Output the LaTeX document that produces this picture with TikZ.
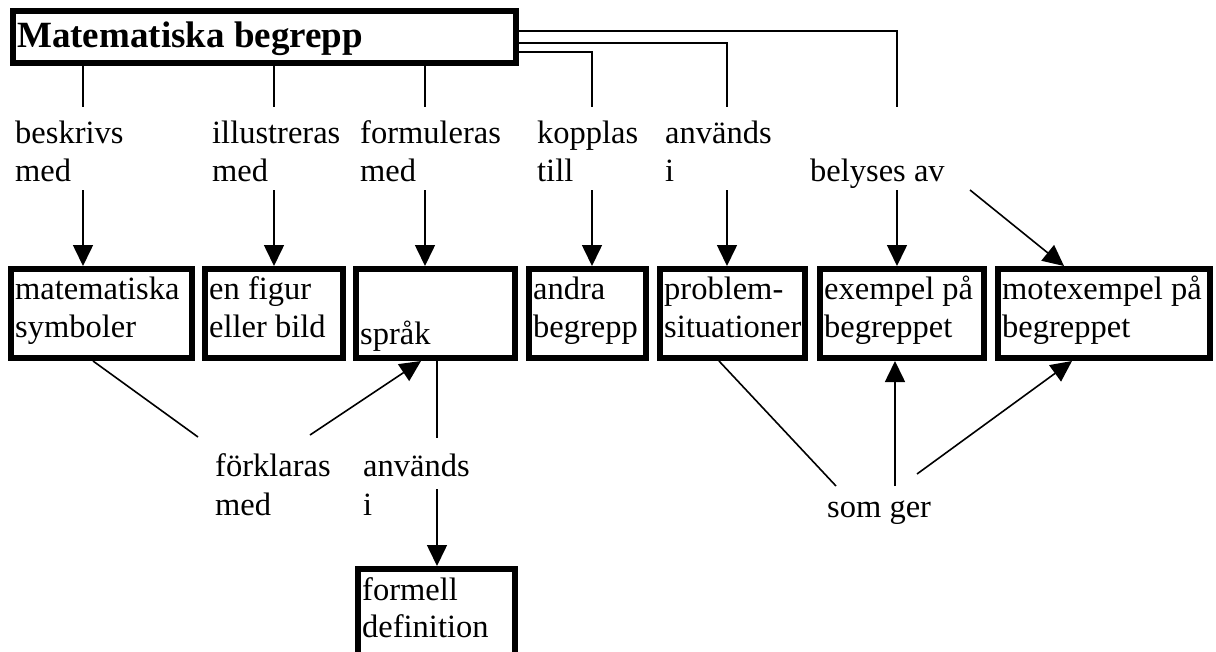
\documentclass[tikz,border=0pt]{standalone}
\usepackage{fontspec}
\setmainfont{Liberation Serif}
\usetikzlibrary{arrows.meta,calc}
\begin{document}
\begin{tikzpicture}[x=1pt,y=-1pt,
  box/.style={draw, line width=6pt, outer sep=3pt, inner sep=0pt, anchor=north west, minimum height=89pt},
  txt/.style={anchor=base west, inner sep=0pt, font=\fontsize{32.5}{38}\selectfont},
  ln/.style={line width=1.6pt},
  arr/.style={line width=1.6pt, -{Triangle[length=21pt,width=20pt]}}]
\useasboundingbox (0,0) rectangle (1216,651);
\clip (0,0) rectangle (1216,651);
% column coordinates
\coordinate (c1) at (83,0);
\coordinate (c2) at (274,0);
\coordinate (c3) at (425,0);
\coordinate (c4) at (592,0);
\coordinate (c5) at (727,0);
\coordinate (c6) at (897,0);
\coordinate (ta) at (0,107);
\coordinate (tb) at (0,190);
\coordinate (h4) at (0,52);
\coordinate (h5) at (0,43);
\coordinate (h6) at (0,31);
% main box
\node[box, minimum width=503pt, minimum height=52pt] (main) at (10,8) {};
\node[anchor=base west, inner sep=0pt, font=\bfseries\fontsize{37}{42}\selectfont] (maintxt) at (17,47) {Matematiska begrepp};
% boxes
\node[box, minimum width=181pt] (b1) at (8,266) {};
\node[box, minimum width=138pt] (b2) at (202,266) {};
\node[box, minimum width=159pt] (b3) at (353,266) {};
\node[box, minimum width=117pt] (b4) at (526,266) {};
\node[box, minimum width=145pt] (b5) at (657,266) {};
\node[box, minimum width=164pt] (b6) at (817,266) {};
\node[box, minimum width=212pt] (b7) at (995,266) {};
\node[box, minimum width=157pt, minimum height=100pt] (b8) at (355,566) {};
% box texts
\node[txt] (t1a) at (15,299) {matematiska};
\node[txt] (t1b) at (15,337) {symboler};
\node[txt] (t2a) at (209,299) {en figur};
\node[txt] (t2b) at (209,337) {eller bild};
\node[txt] (t3a) at (360,344) {språk};
\node[txt] (t4a) at (533,299) {andra};
\node[txt] (t4b) at (533,337) {begrepp};
\node[txt] (t5a) at (664,299) {problem-};
\node[txt] (t5b) at (664,337) {situationer};
\node[txt] (t6a) at (824,299) {exempel på};
\node[txt] (t6b) at (824,337) {begreppet};
\node[txt] (t7a) at (1002,299) {motexempel på};
\node[txt] (t7b) at (1002,337) {begreppet};
\node[txt] (t8a) at (362,600) {formell};
\node[txt] (t8b) at (362,637) {definition};
% top labels
\node[txt] (l1a) at (15,143) {beskrivs};
\node[txt] (l1b) at (15,181) {med};
\node[txt] (l2a) at (212,143) {illustreras};
\node[txt] (l2b) at (212,181) {med};
\node[txt] (l3a) at (360,143) {formuleras};
\node[txt] (l3b) at (360,181) {med};
\node[txt] (l4a) at (537,143) {kopplas};
\node[txt] (l4b) at (537,181) {till};
\node[txt] (l5a) at (665,143) {används};
\node[txt] (l5b) at (665,181) {i};
\node[txt] (l6) at (810,181) {belyses av};
% lower labels
\node[txt] (l7a) at (215,476) {förklaras};
\node[txt] (l7b) at (215,515) {med};
\node[txt] (l8a) at (363,476) {används};
\node[txt] (l8b) at (363,515) {i};
\node[txt] (l9) at (827,517) {som ger};
% connectors from main box
\draw[ln] (main.south -| c1) -- (c1 |- ta);
\draw[ln] (main.south -| c2) -- (c2 |- ta);
\draw[ln] (main.south -| c3) -- (c3 |- ta);
\draw[ln] (main.east |- h4) -- (c4 |- h4) -- (c4 |- ta);
\draw[ln] (main.east |- h5) -- (c5 |- h5) -- (c5 |- ta);
\draw[ln] (main.east |- h6) -- (c6 |- h6) -- (c6 |- ta);
% arrows into boxes
\draw[arr] (c1 |- tb) -- (b1.north -| c1);
\draw[arr] (c2 |- tb) -- (b2.north -| c2);
\draw[arr] (c3 |- tb) -- (b3.north -| c3);
\draw[arr] (c4 |- tb) -- (b4.north -| c4);
\draw[arr] (c5 |- tb) -- (b5.north -| c5);
\draw[arr] (c6 |- tb) -- (b6.north -| c6);
\coordinate (s7) at (970,190);
\coordinate (e7) at (1064,0);
\draw[arr] (s7) -- (b7.north -| e7);
% lower part
\coordinate (x1) at (93,0);
\coordinate (f1) at (198,437);
\draw[ln] (b1.south -| x1) -- (f1);
\coordinate (f2) at (310,435);
\coordinate (x3) at (421,0);
\draw[arr] (f2) -- (b3.south -| x3);
\coordinate (x4) at (437,0);
\coordinate (f3) at (437,438);
\draw[ln] (b3.south -| x4) -- (f3);
\coordinate (f4) at (437,489);
\draw[arr] (f4) -- (b8.north -| x4);
\coordinate (x5) at (719,0);
\coordinate (g1) at (836,486);
\draw[ln] (b5.south -| x5) -- (g1);
\coordinate (g2) at (895,486);
\draw[arr] (g2) -- (b6.south -| g2);
\coordinate (g3) at (917,474);
\coordinate (x7) at (1072,0);
\draw[arr] (g3) -- (b7.south -| x7);
\end{tikzpicture}
\end{document}
